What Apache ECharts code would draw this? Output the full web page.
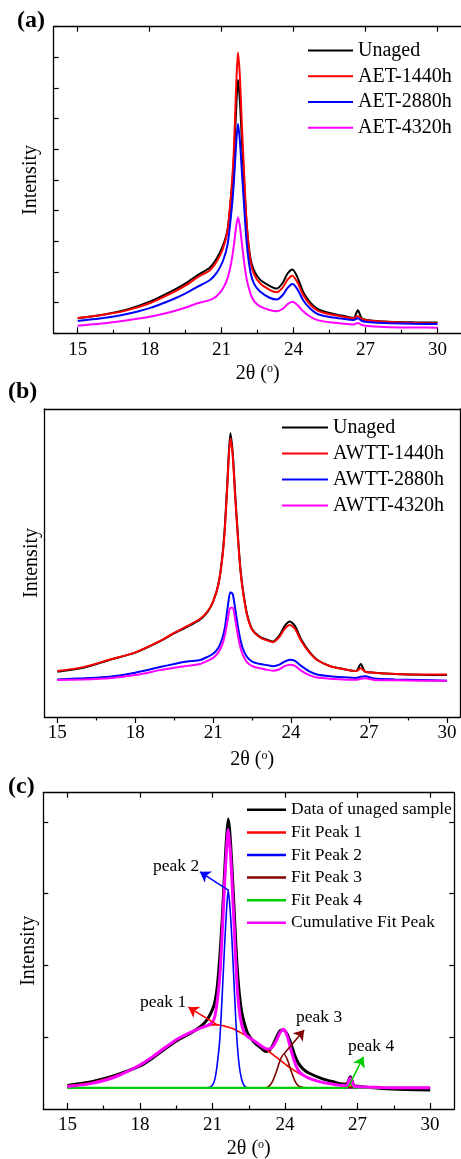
<!DOCTYPE html>
<html>
<head>
<meta charset="utf-8">
<script src="https://cdn.jsdelivr.net/npm/echarts@6/dist/echarts.min.js"></script>
<style>
html,body{margin:0;padding:0;background:#fff;}
#chart{width:461px;height:1159px;}
</style>
</head>
<body>
<div id="chart"></div>
<script>
// ---------- Panel (a): air-aged samples ----------
const xA = [15, 16, 17, 18, 19, 19.5, 20, 20.5, 20.8, 21.05, 21.25, 21.4, 21.5, 21.6, 21.68, 21.76, 21.85, 21.95, 22.05, 22.2, 22.35, 22.6, 23.0, 23.3, 23.55, 23.75, 23.95, 24.15, 24.4, 24.7, 25.0, 25.5, 26.0, 26.5, 26.68, 26.85, 27.2, 28, 29, 30];
const aUnaged = [4.9, 6.0, 7.6, 10.3, 14.1, 16.3, 19.0, 21.4, 24.5, 28.5, 34, 45, 55.4, 72, 82.7, 76, 62, 48, 35, 24.5, 20.5, 17.5, 15.5, 14.6, 16.5, 19.5, 20.8, 18.5, 13.5, 10, 8.0, 6.6, 5.8, 5.0, 7.5, 4.8, 4.2, 3.8, 3.6, 3.5];
const aAET1440 = [5.0, 6.0, 7.4, 9.8, 13.4, 15.6, 18.3, 20.5, 23.5, 27.5, 33.5, 46, 58, 79, 91.6, 84, 67, 50, 35, 23.5, 19.3, 16.3, 14.2, 13.4, 15, 17.5, 18.8, 16.8, 12.5, 9.3, 7.4, 6.2, 5.5, 4.9, 5.6, 4.6, 4.1, 3.7, 3.4, 3.3];
const aAET2880 = [4.0, 4.9, 6.2, 8.2, 11.2, 13.0, 15.2, 17.3, 19.8, 23.5, 29, 39, 48, 61, 68.3, 63, 52, 40, 29, 20, 16.2, 13.6, 11.6, 11.0, 12.5, 14.8, 16.1, 14.5, 10.8, 8.0, 6.3, 5.3, 4.8, 4.3, 4.9, 4.0, 3.6, 3.3, 3.1, 3.0];
const aAET4320 = [2.5, 3.2, 4.2, 5.4, 7.2, 8.4, 9.8, 10.8, 12.2, 14.5, 18, 23, 28, 34.5, 37.8, 35, 29, 22.5, 17.5, 13, 10.5, 8.8, 7.6, 7.2, 8.0, 9.5, 10.3, 9.3, 7.2, 5.4, 4.3, 3.6, 3.2, 2.9, 3.4, 2.7, 2.3, 2.0, 1.9, 1.8];

// ---------- Panel (b): water-aged samples ----------
const xB = [15, 16, 17, 18, 19, 19.5, 20, 20.5, 20.8, 21.0, 21.2, 21.35, 21.45, 21.55, 21.66, 21.75, 21.85, 21.95, 22.05, 22.15, 22.3, 22.5, 22.8, 23.1, 23.3, 23.55, 23.75, 23.95, 24.15, 24.4, 24.7, 25.0, 25.5, 26.0, 26.5, 26.68, 26.85, 27.2, 28, 29, 30];
const bUnaged = [14.7, 16.0, 18.5, 20.9, 24.8, 27.2, 29.3, 31.7, 34.3, 37.5, 43, 52, 62, 77, 92.1, 86, 72, 59, 48, 41, 33.5, 28.5, 26, 25, 24.5, 26.5, 29.5, 31.0, 29.5, 25.0, 21.2, 18.6, 16.5, 15.6, 14.9, 17.2, 14.7, 14.4, 14.0, 13.7, 13.6];
const bAWTT1440 = [14.9, 16.2, 18.6, 21.0, 24.9, 27.3, 29.5, 31.9, 34.5, 37.6, 43, 51.5, 61, 76, 90.5, 85, 71, 58.5, 47.5, 40.5, 33.2, 28.3, 25.8, 24.8, 24.3, 26.0, 28.6, 29.9, 28.6, 24.5, 21.0, 18.5, 16.5, 15.6, 14.9, 15.8, 14.7, 14.4, 14.0, 13.8, 13.8];
const bAWTT2880 = [12.2, 12.6, 13.1, 14.4, 16.3, 17.2, 18.0, 18.5, 19.6, 20.5, 22.5, 25.5, 29, 35, 40.5, 40.0, 35, 29.5, 25, 22, 19.5, 18.0, 17.2, 16.8, 16.5, 17.0, 18.0, 18.6, 18.2, 16.5, 14.8, 13.8, 13.2, 12.9, 12.7, 13.1, 13.2, 12.5, 12.2, 12.0, 11.8];
const bAWTT4320 = [12.0, 12.2, 12.6, 13.6, 15.3, 16.0, 16.6, 17.2, 18.3, 19.2, 21, 23.5, 26.5, 31, 35.5, 35.5, 31.5, 26.5, 22.5, 20, 17.8, 16.5, 15.8, 15.3, 15.0, 15.5, 16.5, 17.0, 16.6, 15.0, 13.6, 12.8, 12.4, 12.2, 12.1, 12.4, 12.6, 12.0, 11.9, 11.8, 11.8];

// ---------- Panel (c): peak fitting of the unaged sample ----------
const xC = [15, 16, 17, 18, 18.5, 19, 19.5, 20, 20.5, 20.8, 21.0, 21.1, 21.2, 21.3, 21.4, 21.5, 21.58, 21.65, 21.72, 21.8, 21.9, 22.0, 22.1, 22.2, 22.3, 22.45, 22.7, 23.0, 23.2, 23.35, 23.5, 23.65, 23.8, 23.95, 24.1, 24.25, 24.4, 24.55, 24.75, 25.0, 25.5, 26.0, 26.4, 26.55, 26.7, 26.85, 27.0, 27.5, 28, 29, 30];
const cData = [7.4, 8.6, 10.7, 13.6, 16.0, 18.8, 21.5, 23.6, 26.0, 28.5, 31.5, 34, 39, 48, 60, 75, 86, 91.7, 87, 77, 62, 47, 37, 31, 27.5, 24, 21.3, 19.3, 18.2, 18.5, 20.3, 22.8, 24.8, 25.0, 23.5, 20.5, 17.0, 14.5, 12.6, 11.3, 9.7, 8.6, 7.9, 7.9, 10.2, 7.4, 7.2, 6.8, 6.5, 6.2, 6.0];
const cPeak1 = [7.3, 8.4, 10.5, 13.9, 16.4, 19.2, 21.9, 23.9, 25.6, 26.3, 26.6, 26.6, 26.6, 26.5, 26.4, 26.2, 26.0, 25.9, 25.7, 25.5, 25.2, 24.8, 24.4, 24.0, 23.6, 22.9, 21.7, 20.0, 18.9, 18.1, 17.2, 16.3, 15.4, 14.5, 13.6, 12.8, 12.1, 11.4, 10.6, 9.7, 8.5, 7.8, 7.4, 7.3, 7.2, 7.1, 7.0, 6.9, 6.8, 6.7, 6.7];
const cPeak2 = [6.7, 6.7, 6.7, 6.7, 6.7, 6.7, 6.7, 6.7, 6.7, 6.7, 7.6, 9.5, 14.5, 22, 36, 52, 63, 69.2, 64, 54, 38, 23, 14, 9.5, 7.5, 6.7, 6.7, 6.7, 6.7, 6.7, 6.7, 6.7, 6.7, 6.7, 6.7, 6.7, 6.7, 6.7, 6.7, 6.7, 6.7, 6.7, 6.7, 6.7, 6.7, 6.7, 6.7, 6.7, 6.7, 6.7, 6.7];
const cPeak3 = [6.7, 6.7, 6.7, 6.7, 6.7, 6.7, 6.7, 6.7, 6.7, 6.7, 6.7, 6.7, 6.7, 6.7, 6.7, 6.7, 6.7, 6.7, 6.7, 6.7, 6.7, 6.7, 6.7, 6.7, 6.7, 6.7, 6.7, 6.7, 6.7, 7.3, 9.0, 12.0, 15.5, 17.4, 15.5, 12.0, 9.0, 7.3, 6.8, 6.7, 6.7, 6.7, 6.7, 6.7, 6.7, 6.7, 6.7, 6.7, 6.7, 6.7, 6.7];
const cPeak4 = [6.7, 6.7, 6.7, 6.7, 6.7, 6.7, 6.7, 6.7, 6.7, 6.7, 6.7, 6.7, 6.7, 6.7, 6.7, 6.7, 6.7, 6.7, 6.7, 6.7, 6.7, 6.7, 6.7, 6.7, 6.7, 6.7, 6.7, 6.7, 6.7, 6.7, 6.7, 6.7, 6.7, 6.7, 6.7, 6.7, 6.7, 6.7, 6.7, 6.7, 6.7, 6.7, 6.7, 6.9, 8.0, 6.9, 6.7, 6.7, 6.7, 6.7, 6.7];
const cCumulative = [7.1, 8.1, 10.2, 13.9, 16.4, 19.2, 21.9, 23.9, 25.6, 26.4, 27.5, 29.4, 34.4, 42, 55.5, 71.5, 82, 88.4, 83, 72.8, 56.5, 41, 31.5, 26.8, 24.4, 22.9, 21.7, 20.0, 19.1, 19.0, 19.8, 21.8, 24.2, 25.2, 22.8, 18.5, 14.8, 12.2, 10.7, 9.7, 8.5, 7.8, 7.4, 7.5, 9.8, 7.3, 7.0, 6.9, 6.8, 6.7, 6.7];

// annotation arrows in panel (c): [from, to] in data coordinates
const arrowPeak1 = [[21.2, 26.6], [20.0, 32.2]];
const arrowPeak2 = [[21.65, 69.2], [20.48, 75.0]];
const arrowPeak3 = [[23.95, 17.4], [24.79, 25.0]];
const arrowPeak4 = [[26.69, 8.1], [27.24, 16.5]];

// tick positions
const majorTicks = [15, 18, 21, 24, 27, 30];
const minorTicks = [16.5, 19.5, 22.5, 25.5, 28.5];
const cYTicks = [22.7, 45.4, 68.1, 90.8];

const FONT = "'Liberation Serif', 'Times New Roman', serif";
const zip = (xs, ys) => xs.map((x, i) => [x, ys[i]]);

const chart = echarts.init(document.getElementById('chart'), null, {renderer: 'canvas'});

const grids = [
  {left: 53.7, top: 26.7, width: 407.8, height: 306.6, outerBoundsMode: 'none'},
  {left: 44.3, top: 409, width: 415.7, height: 308, outerBoundsMode: 'none'},
  {left: 43.3, top: 792.7, width: 411, height: 316.3, outerBoundsMode: 'none'}
];
const xRange = [[14, 31], [14.5, 30.5], [14, 31]];
const tickInside = [true, false, true];
const gapX = [30, 33, 30];
const gapY = [12.7, 3, 5];
const axisLineStyle = {color: '#000', width: 1.3};

const xAxes = [];
const yAxes = [];
const nameRich = {
  n: {fontSize: 20, fontFamily: FONT, color: '#000', lineHeight: 20},
  s: {fontSize: 12, fontFamily: FONT, color: '#000', verticalAlign: 'top', lineHeight: 12}
};
for (let g = 0; g < 3; g++) {
  const [mn, mx] = xRange[g];
  xAxes.push({
    gridIndex: g, type: 'value', min: mn, max: mx, position: 'bottom',
    name: '{n|2θ (}{s|o}{n|)}', nameLocation: 'middle', nameGap: gapX[g], nameMoveOverlap: false,
    nameTextStyle: {rich: nameRich},
    axisLine: {show: true, onZero: false, lineStyle: axisLineStyle},
    axisTick: {show: true, inside: tickInside[g], length: 6, customValues: majorTicks, lineStyle: {color: '#000', width: 1.2}},
    axisLabel: {show: true, customValues: majorTicks, margin: 7, fontSize: 19, fontFamily: FONT, color: '#000'},
    splitLine: {show: false}
  });
  xAxes.push({
    gridIndex: g, type: 'value', min: mn, max: mx, position: 'bottom',
    axisLine: {show: false, onZero: false},
    axisTick: {show: true, inside: tickInside[g], length: 3.5, customValues: minorTicks, lineStyle: {color: '#000', width: 1.2}},
    axisLabel: {show: false},
    splitLine: {show: false}
  });
  xAxes.push({
    gridIndex: g, type: 'value', min: mn, max: mx, position: 'top',
    axisLine: {show: true, onZero: false, lineStyle: axisLineStyle},
    axisTick: {show: g !== 1, inside: true, length: 5, customValues: majorTicks, lineStyle: {color: '#000', width: 1.2}},
    axisLabel: {show: false},
    splitLine: {show: false}
  });
  const yTickOpt = g === 0
    ? {show: true, inside: true, length: 5, lineStyle: {color: '#000', width: 1.2}}
    : g === 2
      ? {show: true, inside: true, length: 5, customValues: cYTicks, lineStyle: {color: '#000', width: 1.2}}
      : {show: false};
  yAxes.push({
    gridIndex: g, type: 'value', min: 0, max: 100, interval: 10, position: 'left',
    name: 'Intensity', nameLocation: 'middle', nameGap: gapY[g], nameMoveOverlap: false,
    nameTextStyle: {fontSize: 20, fontFamily: FONT, color: '#000'},
    axisLine: {show: true, onZero: false, lineStyle: axisLineStyle},
    axisTick: yTickOpt,
    axisLabel: {show: false},
    splitLine: {show: false}
  });
  yAxes.push({
    gridIndex: g, type: 'value', min: 0, max: 100, interval: 10, position: 'right',
    axisLine: {show: g !== 0, onZero: false, lineStyle: axisLineStyle},
    axisTick: g === 2 ? {show: true, inside: true, length: 5, customValues: cYTicks, lineStyle: {color: '#000', width: 1.2}} : {show: false},
    axisLabel: {show: false},
    splitLine: {show: false}
  });
}

function line(name, g, xs, ys, color, width, extra) {
  return Object.assign({
    name, type: 'line', xAxisIndex: g * 3, yAxisIndex: g * 2,
    data: zip(xs, ys), symbol: 'none', smooth: 0.25,
    lineStyle: {color, width}, itemStyle: {color},
    emphasis: {disabled: true}, silent: true, z: 3
  }, extra || {});
}
function arrow(pts, color) {
  return {
    silent: true, symbol: ['none', 'arrow'], symbolSize: 10, animation: false,
    label: {show: false}, emphasis: {disabled: true},
    lineStyle: {color, width: 1.5, type: 'solid'},
    data: [[{coord: pts[0]}, {coord: pts[1]}]]
  };
}

const series = [
  line('Unaged', 0, xA, aUnaged, '#000000', 2),
  line('AET-1440h', 0, xA, aAET1440, '#ff0000', 2),
  line('AET-2880h', 0, xA, aAET2880, '#0000ff', 2),
  line('AET-4320h', 0, xA, aAET4320, '#ff00ff', 2),

  line('Unaged', 1, xB, bUnaged, '#000000', 2),
  line('AWTT-1440h', 1, xB, bAWTT1440, '#ff0000', 2),
  line('AWTT-2880h', 1, xB, bAWTT2880, '#0000ff', 2),
  line('AWTT-4320h', 1, xB, bAWTT4320, '#ff00ff', 2),

  line('Data of unaged sample', 2, xC, cData, '#000000', 3),
  line('Fit Peak 1', 2, xC, cPeak1, '#ff0000', 1.6, {markLine: arrow(arrowPeak1, '#ff0000')}),
  line('Fit Peak 2', 2, xC, cPeak2, '#0000ff', 1.6, {markLine: arrow(arrowPeak2, '#0000ff')}),
  line('Fit Peak 3', 2, xC, cPeak3, '#800000', 1.6, {markLine: arrow(arrowPeak3, '#800000')}),
  line('Fit Peak 4', 2, xC, cPeak4, '#00cc00', 2.2, {markLine: arrow(arrowPeak4, '#00cc00')}),
  line('Cumulative Fit Peak', 2, xC, cCumulative, '#ff00ff', 3)
];

function legend(names, left, top, itemWidth, iconH, fontSize, lineHeight) {
  return {
    orient: 'vertical', left, top, itemWidth, itemHeight: iconH, itemGap: 0,
    selectedMode: false, padding: 0, icon: 'rect',
    data: names,
    textStyle: {fontSize, fontFamily: FONT, color: '#000', lineHeight}
  };
}

const textStyle = (t, x, y, size, bold) => ({
  type: 'text', x, y, silent: true,
  style: {text: t, fontSize: size, fontFamily: FONT, fontWeight: bold ? 'bold' : 'normal', fill: '#000', verticalAlign: 'middle', align: 'left'}
});

chart.setOption({
  animation: false,
  backgroundColor: '#fff',
  grid: grids,
  xAxis: xAxes,
  yAxis: yAxes,
  legend: [
    legend(['Unaged', 'AET-1440h', 'AET-2880h', 'AET-4320h'], 308, 37.7, 45, 2, 20, 25.7),
    legend(['Unaged', 'AWTT-1440h', 'AWTT-2880h', 'AWTT-4320h'], 282, 414.5, 46, 2, 20, 26),
    legend(['Data of unaged sample', 'Fit Peak 1', 'Fit Peak 2', 'Fit Peak 3', 'Fit Peak 4', 'Cumulative Fit Peak'], 247, 798.5, 39, 2.5, 17.5, 22.6)
  ],
  graphic: [
    textStyle('(a)', 17, 21, 24, true),
    textStyle('(b)', 8, 392, 24, true),
    textStyle('(c)', 8, 787, 24, true),
    textStyle('peak 2', 153, 866, 17.5, false),
    textStyle('peak 1', 140, 1002, 17.5, false),
    textStyle('peak 3', 296, 1017, 17.5, false),
    textStyle('peak 4', 348, 1046, 17.5, false)
  ],
  series
});
</script>
</body>
</html>
